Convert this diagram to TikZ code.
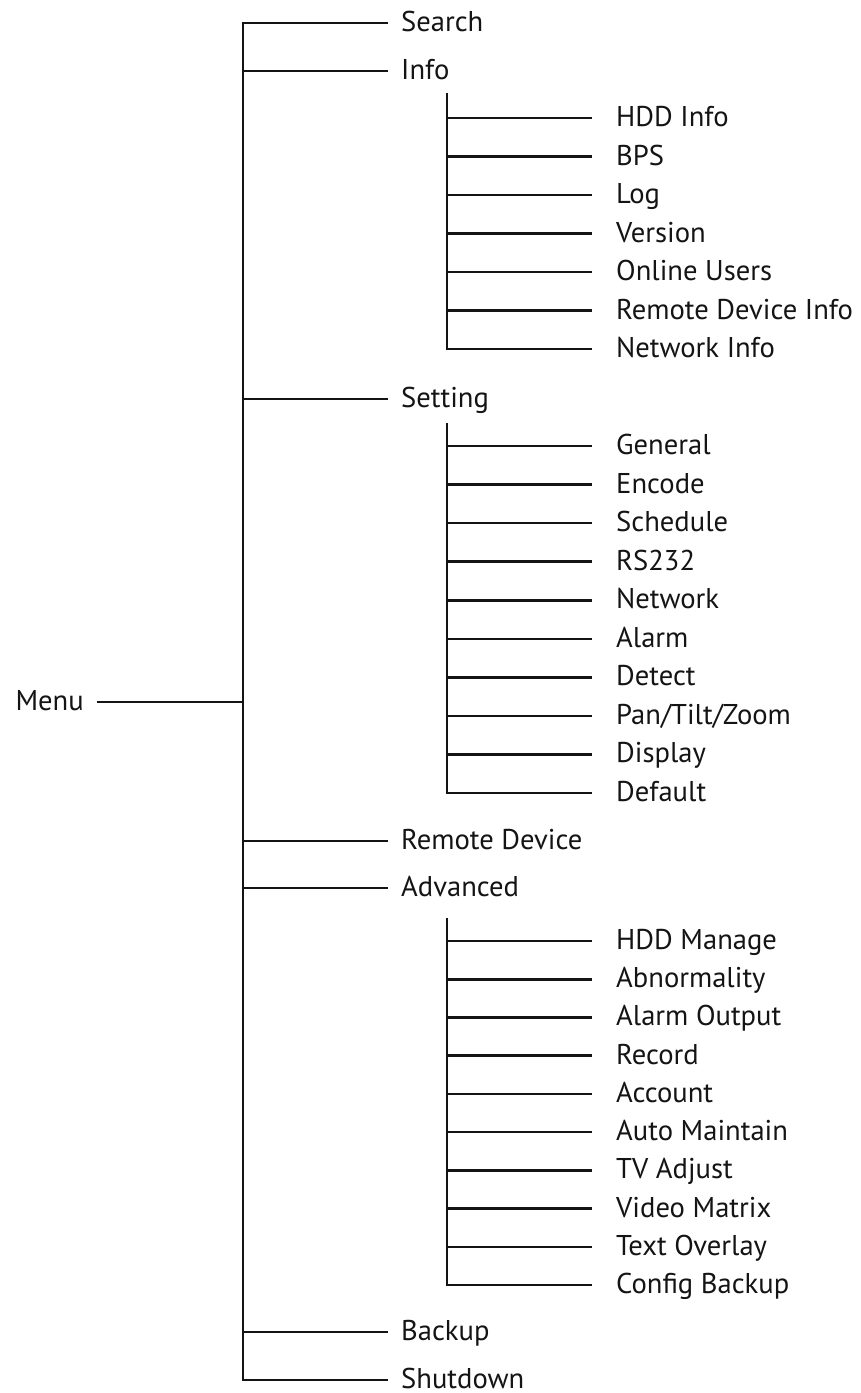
\documentclass[tikz,border=0pt]{standalone}
\usepackage{fontspec}
\setmainfont{PT Sans}
\usepackage{tikz}
\usetikzlibrary{calc}
\usepackage{xcolor}
\definecolor{ink}{HTML}{141414}
\tikzset{
  every node/.style={font=\fontsize{28.6}{32}\selectfont,text=ink,text height=20pt,text depth=3pt},
  rootitem/.style={anchor=east,inner xsep=13pt,inner ysep=0pt},
  topitem/.style={anchor=west,inner xsep=13pt,inner ysep=0pt},
  subitem/.style={anchor=west,inner xsep=24pt,inner ysep=0pt},
  branch/.style={draw=ink,line width=2.6pt},
}

\begin{document}
\begin{tikzpicture}[x=1pt,y=-1pt]
  \useasboundingbox (0,0) rectangle (860,1393);
  \coordinate (spine) at (243,0);
  \node[rootitem] (menu) at (97,702) {Menu};

  \node[topitem] (search) at (388,23) {Search};
  \node[topitem] (info) at (388,71) {Info};
  \node[topitem] (setting) at (388,399) {Setting};
  \node[topitem] (remote) at (388,841) {Remote Device};
  \node[topitem] (advanced) at (388,888) {Advanced};
  \node[topitem] (backup) at (388,1332) {Backup};
  \node[topitem] (shutdown) at (388,1380) {Shutdown};
  \draw[branch] (search.west) -- (search.west -| spine) |- (shutdown.west);
  \draw[branch] (menu.east) -- (menu.east -| spine);
  \draw[branch] (info.west -| spine) -- (info.west); \draw[branch] (setting.west -| spine) -- (setting.west);
  \draw[branch] (remote.west -| spine) -- (remote.west); \draw[branch] (advanced.west -| spine) -- (advanced.west);
  \draw[branch] (backup.west -| spine) -- (backup.west);

  \coordinate (infobus) at (447,93);
  \node[subitem] (hddinfo) at (592,118) {HDD Info};
  \node[subitem] (bps) at (592,156.5) {BPS};
  \node[subitem] (log) at (592,195) {Log};
  \node[subitem] (version) at (592,233.5) {Version};
  \node[subitem] (users) at (592,272) {Online Users};
  \node[subitem] (remoteinfo) at (592,310.5) {Remote Device Info};
  \node[subitem] (netinfo) at (592,349) {Network Info};
  \draw[branch] (infobus) |- (netinfo.west);
  \draw[branch] (hddinfo.west -| infobus) -- (hddinfo.west); \draw[branch] (bps.west -| infobus) -- (bps.west);
  \draw[branch] (log.west -| infobus) -- (log.west); \draw[branch] (version.west -| infobus) -- (version.west);
  \draw[branch] (users.west -| infobus) -- (users.west); \draw[branch] (remoteinfo.west -| infobus) -- (remoteinfo.west);

  \coordinate (setbus) at (447,423);
  \node[subitem] (general) at (592,446) {General};
  \node[subitem] (encode) at (592,484.6) {Encode};
  \node[subitem] (schedule) at (592,523.1) {Schedule};
  \node[subitem] (rs) at (592,561.7) {RS232};
  \node[subitem] (network) at (592,600.2) {Network};
  \node[subitem] (alarm) at (592,638.8) {Alarm};
  \node[subitem] (detect) at (592,677.3) {Detect};
  \node[subitem] (ptz) at (592,715.9) {Pan/Tilt/Zoom};
  \node[subitem] (display) at (592,754.4) {Display};
  \node[subitem] (default) at (592,793) {Default};
  \draw[branch] (setbus) |- (default.west);
  \draw[branch] (general.west -| setbus) -- (general.west); \draw[branch] (encode.west -| setbus) -- (encode.west);
  \draw[branch] (schedule.west -| setbus) -- (schedule.west); \draw[branch] (rs.west -| setbus) -- (rs.west);
  \draw[branch] (network.west -| setbus) -- (network.west); \draw[branch] (alarm.west -| setbus) -- (alarm.west);
  \draw[branch] (detect.west -| setbus) -- (detect.west); \draw[branch] (ptz.west -| setbus) -- (ptz.west);
  \draw[branch] (display.west -| setbus) -- (display.west);

  \coordinate (advbus) at (447,918);
  \node[subitem] (hddmanage) at (592,941) {HDD Manage};
  \node[subitem] (abnormal) at (592,979.2) {Abnormality};
  \node[subitem] (alarmout) at (592,1017.4) {Alarm Output};
  \node[subitem] (record) at (592,1055.7) {Record};
  \node[subitem] (account) at (592,1093.9) {Account};
  \node[subitem] (automaint) at (592,1132.1) {Auto Maintain};
  \node[subitem] (tvadjust) at (592,1170.3) {TV Adjust};
  \node[subitem] (matrix) at (592,1208.6) {Video Matrix};
  \node[subitem] (overlay) at (592,1246.8) {Text Overlay};
  \node[subitem] (cfgbackup) at (592,1285) {Config Backup};
  \draw[branch] (advbus) |- (cfgbackup.west);
  \draw[branch] (hddmanage.west -| advbus) -- (hddmanage.west); \draw[branch] (abnormal.west -| advbus) -- (abnormal.west);
  \draw[branch] (alarmout.west -| advbus) -- (alarmout.west); \draw[branch] (record.west -| advbus) -- (record.west);
  \draw[branch] (account.west -| advbus) -- (account.west); \draw[branch] (automaint.west -| advbus) -- (automaint.west);
  \draw[branch] (tvadjust.west -| advbus) -- (tvadjust.west); \draw[branch] (matrix.west -| advbus) -- (matrix.west);
  \draw[branch] (overlay.west -| advbus) -- (overlay.west);
\end{tikzpicture}
\end{document}
